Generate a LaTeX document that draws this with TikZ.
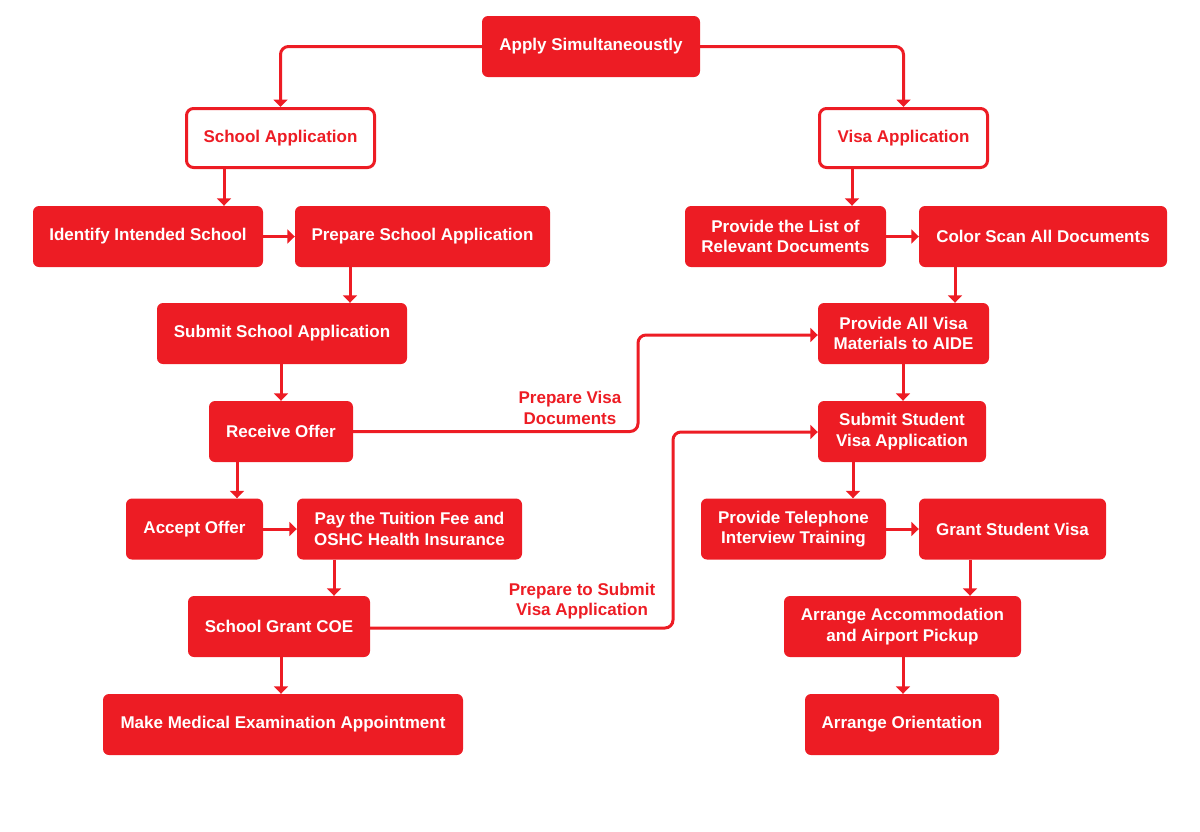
\documentclass[tikz,border=0pt]{standalone}
\usepackage{fontspec}
\setmainfont{Liberation Sans}
\usetikzlibrary{arrows.meta}
\definecolor{aidered}{HTML}{ED1C24}
\tikzset{
  box/.style={fill=aidered, text=white, rounded corners=6pt, minimum height=61pt,
    inner sep=0pt, align=center, font=\fontsize{17}{20.5}\selectfont\bfseries},
  hollow/.style={draw=aidered, line width=3pt, fill=white, text=aidered, rounded corners=7pt,
    minimum height=59pt, inner sep=0pt, align=center, font=\fontsize{17}{20.5}\selectfont\bfseries},
  arr/.style={draw=aidered, line width=3pt, -{Triangle[width=14pt,length=7.5pt]}, rounded corners=8pt},
  lbl/.style={text=aidered, align=center, font=\fontsize{17}{20.5}\selectfont\bfseries, inner sep=0pt}
}
\begin{document}
\begin{tikzpicture}[x=1pt,y=-1pt]
\useasboundingbox (0,0) rectangle (1200,831);
% left column
\node[box, minimum width=218pt] (apply) at (591,46.5) {Apply Simultaneoustly};
\node[hollow, minimum width=188pt] (school) at (280.5,138) {School Application};
\node[hollow, minimum width=168pt] (visa) at (903.5,138) {Visa Application};
\node[box, minimum width=230pt] (identify) at (148,236.5) {Identify Intended School};
\node[box, minimum width=255pt] (prepare) at (422.5,236.5) {Prepare School Application};
\node[box, minimum width=250pt] (submit) at (282,333.5) {Submit School Application};
\node[box, minimum width=144pt] (receive) at (281,431.5) {Receive Offer};
\node[box, minimum width=137pt] (accept) at (194.5,529) {Accept Offer};
\node[box, minimum width=225pt] (pay) at (409.5,529) {Pay the Tuition Fee and\\OSHC Health Insurance};
\node[box, minimum width=182pt] (coe) at (279,626.5) {School Grant COE};
\node[box, minimum width=360pt] (medical) at (283,724.5) {Make Medical Examination Appointment};
% right column
\node[box, minimum width=201pt] (list) at (785.5,236.5) {Provide the List of\\Relevant Documents};
\node[box, minimum width=248pt] (scan) at (1043,236.5) {Color Scan All Documents};
\node[box, minimum width=171pt] (materials) at (903.5,333.5) {Provide All Visa\\Materials to AIDE};
\node[box, minimum width=168pt] (studentvisa) at (902,431.5) {Submit Student\\Visa Application};
\node[box, minimum width=185pt] (phone) at (793.5,529) {Provide Telephone\\Interview Training};
\node[box, minimum width=187pt] (grant) at (1012.5,529) {Grant Student Visa};
\node[box, minimum width=237pt] (accom) at (902.5,626.5) {Arrange Accommodation\\and Airport Pickup};
\node[box, minimum width=194pt] (orient) at (902,724.5) {Arrange Orientation};
% labels
\node[lbl] (lab1) at (570,408) {Prepare Visa\\Documents};
\node[lbl] (lab2) at (582,601) {Prepare to Submit\\Visa Application};
% connectors
\draw[arr] (apply.west) -| (school.north);
\draw[arr] (apply.east) -| (visa.north);
\draw[arr] (school.south -| 224,0) -- (identify.north -| 224,0);
\draw[arr] (identify.east) -- (prepare.west);
\draw[arr] (prepare.south -| 350,0) -- (submit.north -| 350,0);
\draw[arr] (submit.south -| 281,0) -- (receive.north -| 281,0);
\draw[arr] (receive.south -| 237,0) -- (accept.north -| 237,0);
\draw[arr] (accept.east) -- (pay.west);
\draw[arr] (pay.south -| 334,0) -- (coe.north -| 334,0);
\draw[arr] (coe.south -| 281,0) -- (medical.north -| 281,0);
\draw[arr] (visa.south -| 852,0) -- (list.north -| 852,0);
\draw[arr] (list.east) -- (scan.west);
\draw[arr] (scan.south -| 955,0) -- (materials.north -| 955,0);
\draw[arr] (materials.south -| 903,0) -- (studentvisa.north -| 903,0);
\draw[arr] (studentvisa.south -| 853,0) -- (phone.north -| 853,0);
\draw[arr] (phone.east) -- (grant.west);
\draw[arr] (grant.south -| 970,0) -- (accom.north -| 970,0);
\draw[arr] (accom.south -| 903,0) -- (orient.north -| 903,0);
\draw[arr] (receive.east) -- (638,431.5) -- (638,335) -- (materials.west |- 0,335);
\draw[arr] (coe.east |- 0,628) -- (673,628) -- (673,432) -- (studentvisa.west |- 0,432);
\end{tikzpicture}
\end{document}
